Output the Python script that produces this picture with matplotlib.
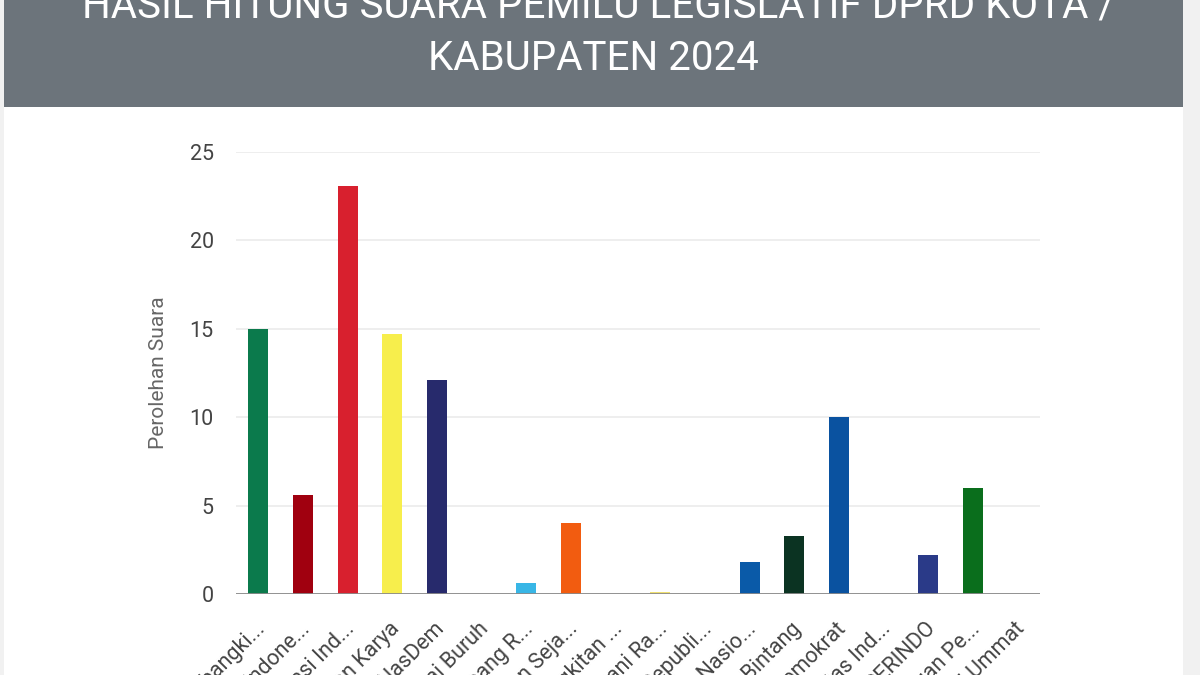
import numpy as np
import matplotlib
matplotlib.use("Agg")
import matplotlib.pyplot as plt
import matplotlib.transforms as mtransforms
from matplotlib.patches import Rectangle

# data
parties = ['Partai Kebangki...', 'Partai Gerakan Indone...', 'Partai Demokrasi Ind...',
           'Partai Golongan Karya', 'Partai NasDem', 'Partai Buruh',
           'Partai Gelombang R...', 'Partai Keadilan Seja...', 'Partai Kebangkitan ...',
           'Partai Hati Nurani Ra...', 'Partai Garda Republi...', 'Partai Amanat Nasio...',
           'Partai Bulan Bintang', 'Partai Demokrat', 'Partai Solidaritas Ind...',
           'Partai PERINDO', 'Partai Persatuan Pe...', 'Partai Ummat']
votes = [15, 5.6, 23.1, 14.7, 12.1, 0, 0.6, 4, 0, 0.1, 0, 1.8, 3.3, 10, 0, 2.2, 6, 0]
colors = ['#0b7a4c', '#a0000f', '#d8202e', '#f7ee4c', '#272a6c', '#d0d0d0',
          '#38b6e6', '#f25c10', '#444444', '#f0e070', '#999999', '#0a5aa8',
          '#0b3322', '#0a52a0', '#cc2222', '#2a3a88', '#0a6e1c', '#333333']
yticks = [0, 5, 10, 15, 20, 25]

W, H = 1200, 675
fig = plt.figure(figsize=(12, 6.75), dpi=100, facecolor='#f1f1f1')

# white card and gray header
fig.patches.append(Rectangle((4 / W, 0), 1179 / W, 1, transform=fig.transFigure,
                             facecolor='white', edgecolor='none', zorder=-2))
fig.patches.append(Rectangle((4 / W, 1 - 107 / H), 1179 / W, 107 / H, transform=fig.transFigure,
                             facecolor='#6c747b', edgecolor='none', zorder=-1))
fig.text(599 / W, 1 - 18 / H, 'HASIL HITUNG SUARA PEMILU LEGISLATIF DPRD KOTA /',
         ha='center', va='baseline', color='white', fontsize=29, family='Roboto')
fig.text(593 / W, 1 - 70 / H, 'KABUPATEN 2024',
         ha='center', va='baseline', color='white', fontsize=29, family='Roboto')

ax = fig.add_axes([236 / W, 1 - 594 / H, 804 / W, 442 / H])
ax.set_zorder(2)
x = np.arange(len(parties))
ax.bar(x, votes, width=0.45, color=colors, zorder=3)
ax.set_xlim(-0.5, len(parties) - 0.5)
ax.set_ylim(0, 25)
ax.set_yticks(yticks)
ax.grid(axis='y', color='#ebebeb', linewidth=1.2, zorder=0)
ax.axhline(0, color='#8a8a8a', linewidth=2, zorder=4)
for s in ax.spines.values():
    s.set_visible(False)
ax.tick_params(axis='y', length=0, pad=16, labelsize=15.5, labelcolor='#444444')
ax.tick_params(axis='x', length=0, pad=23, labelsize=15.5, labelcolor='#444444')
for lab in ax.get_yticklabels():
    lab.set_family('Roboto')
ax.set_xticks(x)
ax.set_xticklabels(parties, rotation=45, ha='right', va='center',
                   rotation_mode='anchor', family='Roboto')
shift = mtransforms.ScaledTranslation(4 / 100, 0, fig.dpi_scale_trans)
for lab in ax.get_xticklabels():
    lab.set_transform(lab.get_transform() + shift)
ax.set_ylabel('Perolehan Suara', fontsize=15, color='#666666', family='Roboto')
ax.yaxis.set_label_coords(-0.085, 0.5)

fig.savefig('out.png', dpi=100, facecolor=fig.get_facecolor())
plt.close(fig)
